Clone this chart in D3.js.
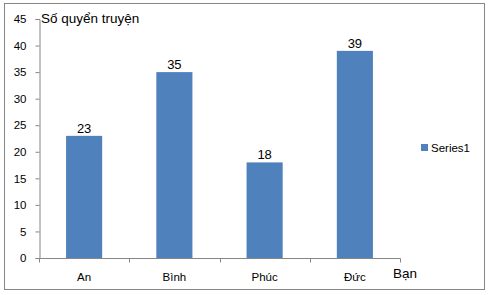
<!DOCTYPE html>
<html>
<head>
<meta charset="utf-8">
<script src="https://cdn.jsdelivr.net/npm/d3@7"></script>
<style>
  body { margin: 0; background: #fff; }
  svg { font-family: "Liberation Sans", Arial, sans-serif; }
</style>
</head>
<body>
<div id="chart"></div>
<script>
var names = ["An", "Bình", "Phúc", "Đức"];
var values = [23, 35, 18, 39];
var yTicks = [0, 5, 10, 15, 20, 25, 30, 35, 40, 45];
var seriesName = "Series1";
var yTitle = "Số quyển truyện";
var xTitle = "Bạn";

var W = 490, H = 295;
var margin = { top: 19, right: 90, bottom: 37, left: 39 };

var svg = d3.select("#chart").append("svg")
  .attr("width", W).attr("height", H);

// outer frame
svg.append("rect")
  .attr("x", 4.5).attr("y", 3.5)
  .attr("width", 480).attr("height", 286)
  .attr("fill", "#fff").attr("stroke", "#868686").attr("stroke-width", 1);

var x = d3.scaleBand().domain(names).range([39, 400]).paddingInner(0.6).paddingOuter(0.3);
var y = d3.scaleLinear().domain([0, 45]).range([258, 19]);

var g = svg.append("g");

// y axis
var yAxis = g.append("g")
  .attr("transform", "translate(39.5,0)")
  .call(d3.axisLeft(y).tickValues(yTicks).tickSize(4).tickPadding(9));
yAxis.selectAll("path, line").attr("stroke", "#868686");
yAxis.selectAll("text").attr("font-size", 11.5).attr("fill", "#000")
  .attr("font-family", "Liberation Sans, Arial, sans-serif");

// bars
g.selectAll(".bar").data(values).enter().append("rect")
  .attr("x", function (d, i) { return x(names[i]); })
  .attr("y", function (d) { return y(d); })
  .attr("width", x.bandwidth())
  .attr("height", function (d) { return y(0) - y(d); })
  .attr("fill", "#4F81BD");

// value labels
g.selectAll(".lbl").data(values).enter().append("text")
  .attr("x", function (d, i) { return x(names[i]) + x.bandwidth() / 2; })
  .attr("y", function (d) { return y(d) - 3; })
  .attr("text-anchor", "middle")
  .attr("font-size", 13)
  .text(function (d) { return d; });

// x axis (category ticks between bands)
var step = (400 - 39) / names.length;
var xAxisG = g.append("g").attr("transform", "translate(0,258.5)");
xAxisG.append("line").attr("x1", 39).attr("x2", 400.5).attr("stroke", "#868686");
d3.range(names.length + 1).forEach(function (i) {
  var px = Math.round(39 + i * step) + 0.5;
  xAxisG.append("line").attr("x1", px).attr("x2", px).attr("y1", 0).attr("y2", 4)
    .attr("stroke", "#868686");
});
xAxisG.selectAll(".cat").data(names).enter().append("text")
  .attr("x", function (d) { return x(d) + x.bandwidth() / 2; })
  .attr("y", 22)
  .attr("text-anchor", "middle")
  .attr("font-size", 11.5)
  .text(function (d) { return d; });

// axis titles
svg.append("text").attr("x", 41).attr("y", 23).attr("font-size", 13.5).text(yTitle);
svg.append("text").attr("x", 393).attr("y", 278).attr("font-size", 13.5).text(xTitle);

// legend
svg.append("rect").attr("x", 421).attr("y", 144).attr("width", 7).attr("height", 7).attr("fill", "#4F81BD");
svg.append("text").attr("x", 431).attr("y", 152).attr("font-size", 11.5).text(seriesName);
</script>
</body>
</html>
